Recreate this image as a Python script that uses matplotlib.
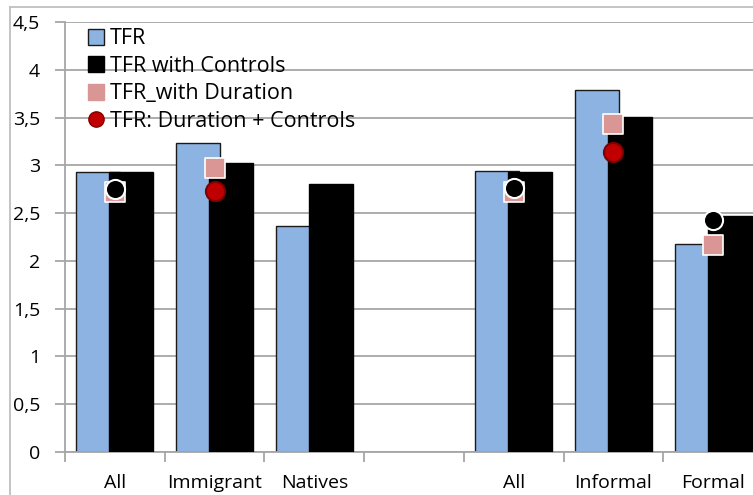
import numpy as np
import matplotlib.pyplot as plt
from matplotlib.lines import Line2D
from matplotlib.ticker import FixedLocator, FuncFormatter

# Total fertility rate by group (empty slot separates the two panels)
categories = ["All", "Immigrant", "Natives", "", "All", "Informal", "Formal"]
tfr = [2.93, 3.23, 2.36, np.nan, 2.94, 3.79, 2.18]
tfr_controls = [2.93, 3.02, 2.80, np.nan, 2.93, 3.51, 2.47]
tfr_duration = [2.72, 2.97, np.nan, np.nan, 2.72, 3.43, 2.17]
tfr_dur_controls = [2.75, 2.73, np.nan, np.nan, 2.76, 3.14, 2.43]
circle_colors = ["#000000", "#C00000", "none", "none", "#000000", "#C00000", "#000000"]
circle_edges = ["white", "#7F0000", "none", "none", "white", "#7F0000", "white"]

plt.rcParams["font.family"] = ["Open Sans", "DejaVu Sans"]

fig = plt.figure(figsize=(7.53, 4.95), dpi=100)
ax = fig.add_axes([65 / 753, 43 / 495, 698 / 753, 430 / 495])

x = np.arange(len(categories))
w = 0.44
ax.bar(x - 0.165, tfr, w, color="#8DB3E2", edgecolor="#1a1a1a", linewidth=1.0, zorder=2)
ax.bar(x + 0.165, tfr_controls, w, color="#000000", edgecolor="#000000", linewidth=1.0, zorder=3)

ax.scatter(x, tfr_duration, marker="s", s=190, color="#D99694", edgecolors="white",
           linewidths=1.2, zorder=4)
for xi, v, c, ec in zip(x, tfr_dur_controls, circle_colors, circle_edges):
    if np.isnan(v):
        continue
    ax.scatter(xi, v, marker="o", s=190, color=c, edgecolors=ec, linewidths=1.5, zorder=5)

ax.set_xlim(-0.5, 6.5)
ax.set_ylim(0, 4.5)
ax.set_yticks(np.arange(0, 4.51, 0.5))
ax.yaxis.set_major_formatter(FuncFormatter(lambda v, p: f"{v:g}".replace(".", ",")))
ax.grid(axis="y", color="#A6A6A6", linewidth=1.3, zorder=0)
ax.set_axisbelow(True)

# boundary ticks between categories, labels at centers
ax.xaxis.set_major_locator(FixedLocator(np.arange(-0.5, 7, 1.0)))
ax.xaxis.set_major_formatter(FuncFormatter(lambda v, p: ""))
ax.xaxis.set_minor_locator(FixedLocator(x))
ax.set_xticklabels(categories, minor=True)
ax.tick_params(axis="x", which="major", length=7, color="#A6A6A6", width=1.3)
ax.tick_params(axis="x", which="minor", length=0, pad=16, labelsize=14)
ax.tick_params(axis="y", length=7, color="#A6A6A6", width=1.3, pad=11, labelsize=14)

for s in ["top", "right"]:
    ax.spines[s].set_visible(False)
for s in ["left", "bottom"]:
    ax.spines[s].set_color("#A6A6A6")
    ax.spines[s].set_linewidth(1.3)

handles = [
    Line2D([], [], marker="s", linestyle="", markersize=11, markerfacecolor="#8DB3E2",
           markeredgecolor="#1a1a1a", markeredgewidth=1.0),
    Line2D([], [], marker="s", linestyle="", markersize=11, markerfacecolor="#000000",
           markeredgecolor="#000000"),
    Line2D([], [], marker="s", linestyle="", markersize=11, markerfacecolor="#D99694",
           markeredgecolor="#D99694"),
    Line2D([], [], marker="o", linestyle="", markersize=11, markerfacecolor="#C00000",
           markeredgecolor="#7F0000"),
]
labels = ["TFR", "TFR with Controls", "TFR_with Duration", "TFR: Duration + Controls"]
ax.legend(handles, labels, loc="upper left", bbox_to_anchor=(9 / 698, 1.015),
          frameon=False, fontsize=15.5, handlelength=0.8, handletextpad=0.25,
          labelspacing=0.3, borderaxespad=0.2)

# chart area border
fig.add_artist(Line2D([10 / 753, 10 / 753], [0, 488 / 495], color="#BFBFBF", linewidth=1.3))
fig.add_artist(Line2D([10 / 753, 1], [488 / 495, 488 / 495], color="#BFBFBF", linewidth=1.3))

fig.savefig("out.png", dpi=100)
